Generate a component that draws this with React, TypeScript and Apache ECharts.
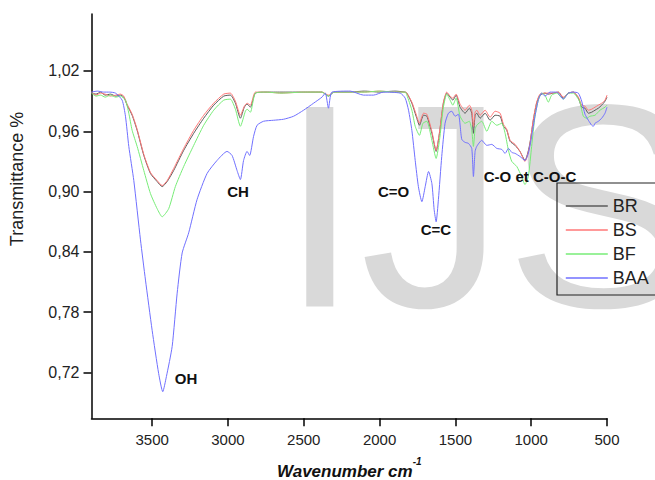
import React, { useEffect, useRef } from "react";
import * as echarts from "echarts";

const SERIES_NAMES = ["BR", "BS", "BF", "BAA"];
const X_TICKS = [500, 1000, 1500, 2000, 2500, 3000, 3500];
const Y_TICKS = [0.72, 0.78, 0.84, 0.9, 0.96, 1.02];

const BR_X = [3900, 3870, 3840, 3810, 3775, 3740, 3709, 3687, 3665, 3632, 3599, 3555, 3511, 3467, 3434, 3401, 3358, 3292, 3226, 3160, 3094, 3028, 2984, 2951, 2918, 2892, 2874, 2852, 2819, 2750, 2650, 2500, 2380, 2337, 2300, 2200, 2100, 2000, 1900, 1831, 1820, 1787, 1759, 1737, 1710, 1688, 1655, 1627, 1605, 1579, 1557, 1535, 1517, 1495, 1469, 1436, 1408, 1392, 1381, 1370, 1359, 1337, 1304, 1271, 1238, 1205, 1183, 1161, 1139, 1106, 1074, 1041, 1012, 986, 964, 942, 909, 887, 854, 821, 788, 755, 722, 689, 667, 645, 623, 601, 579, 557, 535, 513, 500];
const BR_Y = [0.998, 0.997, 0.999, 0.996, 0.997, 0.995, 0.996, 0.994, 0.986, 0.976, 0.961, 0.936, 0.918, 0.91, 0.905, 0.91, 0.921, 0.941, 0.958, 0.973, 0.986, 0.995, 0.996, 0.988, 0.973, 0.984, 0.987, 0.984, 0.998, 0.999, 0.999, 0.999, 0.999, 0.995, 0.999, 0.999, 1.0, 0.999, 1.0, 0.999, 0.998, 0.988, 0.975, 0.966, 0.976, 0.975, 0.958, 0.94, 0.958, 0.988, 0.998, 0.994, 0.991, 0.996, 0.984, 0.978, 0.983, 0.978, 0.958, 0.976, 0.978, 0.973, 0.978, 0.971, 0.976, 0.975, 0.965, 0.961, 0.95, 0.946, 0.94, 0.931, 0.945, 0.971, 0.988, 0.996, 0.998, 0.997, 0.998, 0.999, 0.993, 0.998, 0.999, 0.993, 0.984, 0.983, 0.978, 0.979, 0.981, 0.983, 0.986, 0.99, 0.994];

const BS_X = BR_X;
const BS_Y = [0.999, 0.996, 0.998, 0.997, 0.995, 0.996, 0.997, 0.995, 0.987, 0.977, 0.962, 0.937, 0.919, 0.911, 0.906, 0.911, 0.923, 0.943, 0.961, 0.976, 0.988, 0.997, 0.998, 0.99, 0.976, 0.985, 0.988, 0.986, 0.999, 0.999, 0.998, 0.999, 0.999, 0.996, 0.999, 0.999, 0.999, 1.0, 0.999, 0.999, 0.998, 0.989, 0.977, 0.968, 0.978, 0.977, 0.96, 0.941, 0.959, 0.989, 0.999, 0.995, 0.993, 0.997, 0.987, 0.981, 0.986, 0.981, 0.965, 0.979, 0.981, 0.976, 0.981, 0.974, 0.98, 0.978, 0.967, 0.962, 0.951, 0.947, 0.94, 0.93, 0.944, 0.972, 0.989, 0.997, 0.998, 0.998, 0.998, 0.999, 0.994, 0.998, 0.999, 0.994, 0.986, 0.985, 0.981, 0.982, 0.984, 0.986, 0.988, 0.991, 0.996];

const BF_X = [3900, 3870, 3840, 3810, 3775, 3740, 3709, 3676, 3654, 3632, 3599, 3555, 3511, 3467, 3434, 3391, 3347, 3292, 3226, 3160, 3094, 3028, 2984, 2951, 2918, 2885, 2874, 2852, 2819, 2750, 2650, 2500, 2380, 2337, 2300, 2200, 2100, 2000, 1900, 1831, 1820, 1787, 1765, 1737, 1714, 1688, 1655, 1627, 1605, 1579, 1557, 1535, 1517, 1495, 1469, 1436, 1408, 1392, 1381, 1370, 1359, 1326, 1293, 1260, 1227, 1194, 1172, 1150, 1128, 1095, 1063, 1041, 1019, 997, 975, 953, 931, 909, 887, 865, 832, 788, 755, 722, 689, 678, 656, 634, 612, 579, 546, 513, 500];
const BF_Y = [0.998, 0.995, 0.996, 0.994, 0.996, 0.994, 0.995, 0.991, 0.978, 0.961, 0.945, 0.921, 0.898, 0.883, 0.875, 0.883, 0.905, 0.925, 0.946, 0.966, 0.981, 0.991, 0.992, 0.982, 0.965, 0.98, 0.982, 0.979, 0.998, 0.999, 0.998, 0.999, 0.999, 0.995, 0.999, 0.999, 0.999, 1.0, 0.999, 0.999, 0.996, 0.981, 0.965, 0.956, 0.968, 0.97, 0.951, 0.933, 0.951, 0.984, 0.997, 0.991, 0.986, 0.993, 0.975, 0.968, 0.97, 0.961, 0.945, 0.962, 0.966, 0.97, 0.96, 0.97, 0.966, 0.968, 0.958, 0.941, 0.93, 0.925, 0.915, 0.907, 0.915, 0.945, 0.975, 0.991, 0.998, 0.996, 0.989, 0.996, 0.998, 0.992, 0.998, 0.998, 0.992, 0.989, 0.975, 0.973, 0.975, 0.976, 0.981, 0.984, 0.986];

const BAA_X = [3900, 3860, 3820, 3780, 3742, 3698, 3676, 3654, 3621, 3577, 3544, 3500, 3457, 3430, 3406, 3368, 3335, 3302, 3259, 3204, 3138, 3072, 3006, 2973, 2940, 2918, 2897, 2874, 2857, 2831, 2808, 2765, 2699, 2633, 2567, 2501, 2435, 2380, 2358, 2337, 2314, 2194, 2106, 2040, 1974, 1864, 1831, 1809, 1787, 1765, 1744, 1721, 1699, 1677, 1655, 1640, 1627, 1612, 1590, 1568, 1546, 1524, 1502, 1480, 1458, 1436, 1414, 1392, 1381, 1370, 1359, 1326, 1293, 1260, 1227, 1194, 1172, 1150, 1128, 1106, 1074, 1041, 1019, 997, 975, 953, 931, 909, 876, 832, 788, 755, 722, 689, 667, 645, 623, 601, 590, 579, 557, 535, 513, 500];
const BAA_Y = [0.999, 1.0, 0.999, 0.999, 0.998, 0.991, 0.975, 0.945, 0.911, 0.852, 0.812, 0.762, 0.719, 0.701, 0.716, 0.746, 0.799, 0.839, 0.859, 0.892, 0.918, 0.931, 0.94, 0.936, 0.921, 0.912, 0.931, 0.94, 0.936, 0.955, 0.966, 0.97, 0.971, 0.972, 0.975, 0.981, 0.988, 0.994, 0.998, 0.983, 0.999, 1.0, 0.996, 0.996, 0.999, 0.998, 0.993, 0.981, 0.961, 0.931, 0.905, 0.89, 0.905, 0.92, 0.908, 0.882, 0.87, 0.892, 0.935, 0.968, 0.978, 0.98, 0.975, 0.977, 0.952, 0.949, 0.948, 0.943, 0.915, 0.94, 0.945, 0.951, 0.946, 0.947, 0.943, 0.942, 0.938, 0.943, 0.939, 0.938, 0.935, 0.931, 0.938, 0.955, 0.975, 0.991, 0.998, 0.995, 0.999, 0.999, 0.992, 0.998, 0.999, 0.998, 0.99, 0.977, 0.971, 0.966, 0.965, 0.968, 0.97, 0.973, 0.978, 0.984];

const SERIES_X = [BR_X, BS_X, BF_X, BAA_X];
const SERIES_Y = [BR_Y, BS_Y, BF_Y, BAA_Y];
const COLORS = ["#5a5a5a", "#ff7777", "#77ec77", "#7070ff"];

const FONT = "'Liberation Sans', Arial, sans-serif";

export default function App() {
  const ref = useRef<HTMLDivElement>(null);
  useEffect(() => {
    if (!ref.current) return;
    const chart = echarts.init(ref.current, undefined, { renderer: "svg" });
    const annotation = (text: string, x: number, y: number) => ({
      type: "text",
      x,
      y,
      z: 10,
      style: {
        text,
        fontSize: 15,
        fontWeight: "bold",
        fontFamily: FONT,
        fill: "#111",
        align: "center",
        verticalAlign: "middle",
        textAlign: "center",
        textVerticalAlign: "middle",
      },
    });
    chart.setOption({
      animation: false,
      backgroundColor: "#ffffff",
      textStyle: { fontFamily: FONT },
      grid: { left: 91.5, right: 48, top: 14, bottom: 61.7, containLabel: false, outerBoundsMode: "none" },
      legend: {
        orient: "vertical",
        left: 557,
        top: 183,
        padding: [14, 40, 8, 8],
        itemWidth: 42,
        itemHeight: 14,
        itemGap: 6,
        borderColor: "#222",
        borderWidth: 1.2,
        itemStyle: { opacity: 0 },
        lineStyle: { width: 1.6 },
        textStyle: { fontSize: 18, color: "#222", fontFamily: FONT },
        data: SERIES_NAMES,
      },
      xAxis: {
        type: "value",
        inverse: true,
        min: 500,
        max: 3900,
        axisLine: { show: true, onZero: false, lineStyle: { color: "#000", width: 1.5 } },
        axisTick: { show: true, length: 8, customValues: X_TICKS, lineStyle: { color: "#000", width: 1.5 } },
        axisLabel: {
          customValues: X_TICKS,
          fontSize: 15,
          color: "#222",
          margin: 14,
          fontFamily: FONT,
          formatter: (v: number) => String(v),
        },
        splitLine: { show: false },
        name: "{a|Wavenumber cm}{s|-1}",
        nameLocation: "middle",
        nameGap: 38,
        nameTextStyle: {
          rich: {
            a: { fontSize: 17, fontWeight: "bold", fontStyle: "italic", fontFamily: FONT, color: "#111", lineHeight: 24, verticalAlign: "bottom" },
            s: { fontSize: 10, fontWeight: "bold", fontStyle: "italic", fontFamily: FONT, color: "#111", lineHeight: 10, verticalAlign: "top" },
          },
        },
      },
      yAxis: {
        type: "value",
        min: 0.6745,
        max: 1.0767,
        axisLine: { show: true, onZero: false, lineStyle: { color: "#000", width: 1.5 } },
        axisTick: { show: true, length: 8, customValues: Y_TICKS, lineStyle: { color: "#000", width: 1.5 } },
        axisLabel: {
          customValues: Y_TICKS,
          fontSize: 16,
          color: "#222",
          margin: 12,
          fontFamily: FONT,
          formatter: (v: number) => v.toFixed(2).replace(".", ","),
        },
        splitLine: { show: false },
      },
      graphic: [
        {
          type: "text",
          x: 279.5,
          y: 205.5,
          z: -10,
          silent: true,
          style: {
            text: "IJS",
            fontSize: 290,
            fontFamily: FONT,
            fill: "#d9d9d9",
            align: "left",
            verticalAlign: "middle",
            textAlign: "left",
            textVerticalAlign: "middle",
          },
        },
        {
          type: "text",
          x: 17,
          y: 179,
          rotation: Math.PI / 2,
          style: {
            text: "Transmittance %",
            fontSize: 18,
            fontFamily: FONT,
            fill: "#222",
            align: "center",
            verticalAlign: "middle",
            textAlign: "center",
            textVerticalAlign: "middle",
          },
        },
        annotation("OH", 186, 378),
        annotation("CH", 238, 191),
        annotation("C=O", 393.5, 191.5),
        annotation("C=C", 436, 229),
        annotation("C-O et C-O-C", 530, 176.7),
      ],
      series: SERIES_NAMES.map((name, i) => ({
        name,
        type: "line",
        symbol: "none",
        smooth: 0.2,
        color: COLORS[i],
        lineStyle: { width: 1, color: COLORS[i] },
        data: SERIES_X[i].map((x, j) => [x, SERIES_Y[i][j]]),
      })),
    });
    return () => chart.dispose();
  }, []);
  return <div ref={ref} style={{ position: "fixed", left: 0, top: 0, width: 655, height: 480 }} />;
}
